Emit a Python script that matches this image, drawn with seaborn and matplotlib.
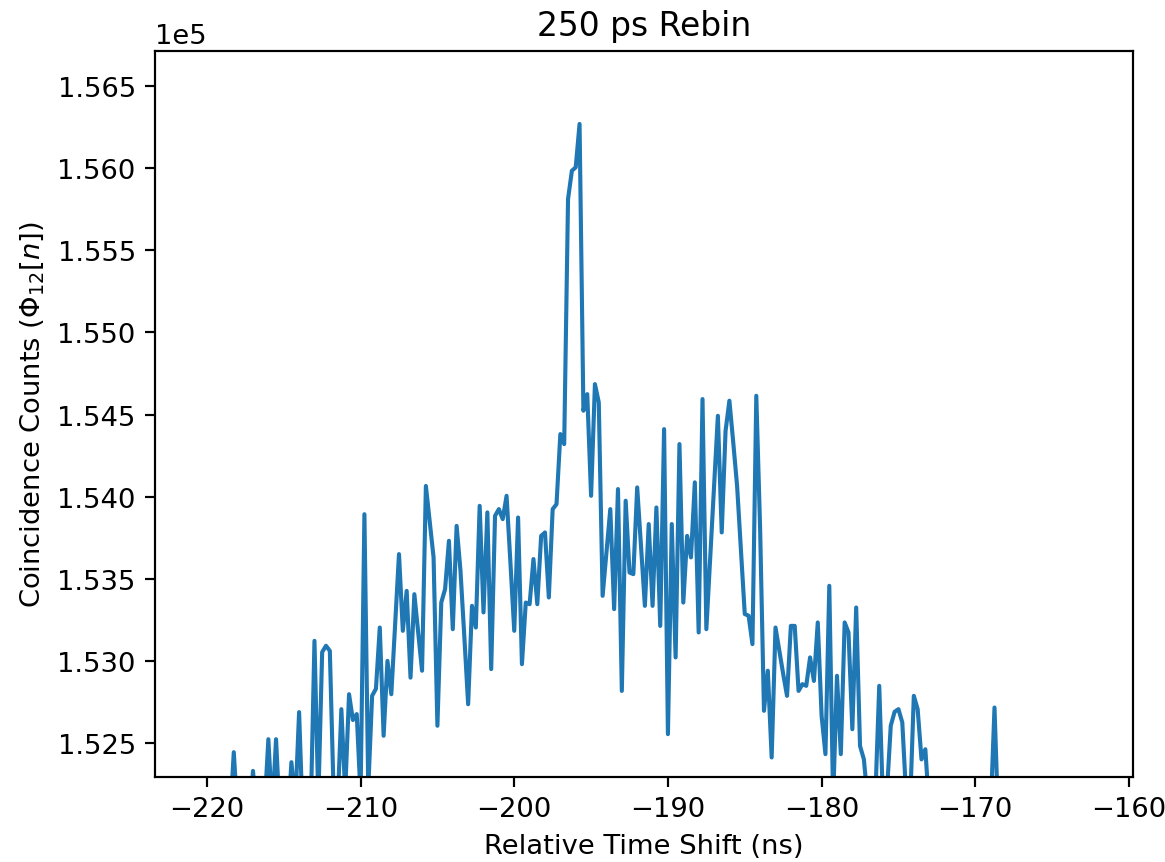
import matplotlib
matplotlib.use("Agg")
import matplotlib.pyplot as plt
import numpy as np
import seaborn as sns
from matplotlib.ticker import MultipleLocator

# 250 ps bins starting at -220 ns
time_start = -220.0
bin_width = 0.25

# coincidence counts per bin (values below ~1.523e5 are off the visible axis)
counts = [
    152010, 151950, 152080, 151990, 152060, 151920, 152030, 152444, 152050, 151970,  # -220.0
    152120, 152000, 152330, 152060, 151940, 152100, 152523, 152080, 152523, 152040,  # -217.5
    152150, 151990, 152383, 152120, 152688, 152000, 152110, 152050, 153122, 152150,  # -215.0
    153053, 153092, 153061, 152180, 152100, 152706, 152200, 152797, 152640, 152676,  # -212.5
    152180, 153893, 152220, 152787, 152830, 153203, 152544, 153000, 152797, 153220,  # -210.0
    153650, 153183, 153426, 152898, 153406, 153170, 152940, 154065, 153850, 153630,  # -207.5
    152605, 153355, 153437, 153731, 153193, 153822, 153550, 153150, 152736, 153335,  # -205.0
    153203, 153944, 153295, 153904, 152950, 153883, 153924, 153863, 154005, 153600,  # -202.5
    153183, 153873, 152980, 153355, 153345, 153620, 153345, 153761, 153782, 153386,  # -200.0
    153924, 153954, 154381, 154320, 155812, 155984, 156005, 156269, 154523, 154624,  # -197.5
    154005, 154685, 154574, 153396, 153660, 153924, 153315, 154046, 152817, 153975,  # -195.0
    153538, 153528, 154056, 153700, 153335, 153833, 153335, 153934, 153213, 154411,  # -192.5
    152554, 153833, 153021, 154320, 153355, 153761, 153630, 154087, 153173, 154594,  # -190.0
    153193, 153630, 154060, 154492, 153782, 154400, 154584, 154330, 154066, 153680,  # -187.5
    153285, 153275, 153102, 154614, 153800, 152696, 152940, 152412, 153203, 153060,  # -185.0
    152920, 152787, 153213, 153213, 152817, 152858, 152848, 153021, 152878, 153234,  # -182.5
    152665, 152432, 153457, 152150, 152909, 152432, 153234, 153173, 152584, 153325,  # -180.0
    152482, 152401, 152150, 152050, 152180, 152848, 152120, 152200, 152605, 152690,  # -177.5
    152706, 152625, 152180, 152100, 152787, 152706, 152400, 152462, 152100, 152020,  # -175.0
    151960, 152080, 152000, 151940, 152060, 151990, 152110, 151970, 152030, 151950,  # -172.5
    152070, 151990, 152040, 151930, 152080, 152716, 152010, 151960, 152090, 151980,  # -170.0
    152040, 151950, 152070, 152000, 151930, 152060, 151990, 152100, 151970, 152020,  # -167.5
    151940, 152080, 152010, 151960, 152050, 151990, 152070, 151940, 152030, 151980,  # -165.0
    152060, 151950, 152090, 152000, 151970, 152040, 151930, 152080, 152010, 151990,  # -162.5
    152050,                                                                          # -160.0
]

time_shift = time_start + bin_width * np.arange(len(counts))

dpi = 197
fig, ax = plt.subplots(figsize=(1165 / dpi, 863 / dpi), dpi=dpi)
fig.subplots_adjust(left=0.133, right=0.9725, bottom=0.0985, top=0.9397)

sns.lineplot(x=time_shift, y=counts, ax=ax, color="#1f77b4", linewidth=1.5)

ax.set_xlim(-223.38, -159.74)
ax.set_ylim(152293, 156713)
ax.yaxis.set_major_locator(MultipleLocator(500))
ax.ticklabel_format(axis="y", style="sci", scilimits=(0, 0), useOffset=False)

ax.set_title("250 ps Rebin")
ax.set_xlabel("Relative Time Shift (ns)")
ax.set_ylabel(r"Coincidence Counts ($\Phi_{12}[n]$)")

fig.savefig("out.png", dpi=dpi)
